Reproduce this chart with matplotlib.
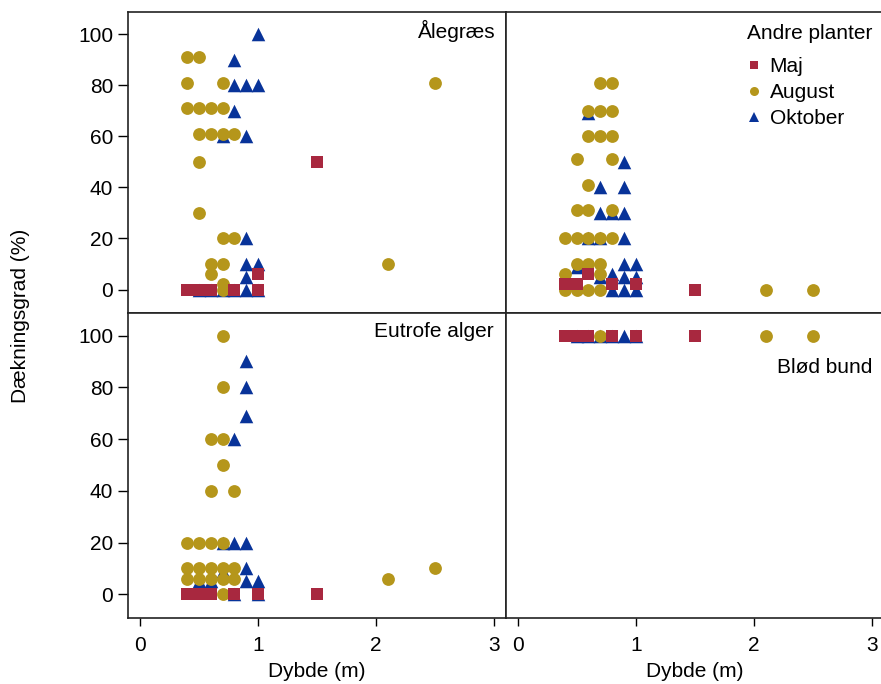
import matplotlib
matplotlib.use("Agg")
import matplotlib.pyplot as plt
from matplotlib.lines import Line2D

plt.rcParams['font.family'] = ['Liberation Sans', 'DejaVu Sans']
plt.rcParams['font.size'] = 15

# farver og markører pr. måned
maaneder = ['Maj', 'August', 'Oktober']
farver = {'Maj': '#A8283F', 'August': '#B5961B', 'Oktober': '#083399'}
markoerer = {'Maj': 's', 'August': 'o', 'Oktober': '^'}
stoerrelse = {'Maj': 68, 'August': 85, 'Oktober': 95}

# Ålegræs
aal_maj_x = [0.4, 0.5, 0.6, 0.8, 1.0, 1.0, 1.5]
aal_maj_y = [0, 0, 0, 0, 0, 6, 50]
aal_aug_x = [0.4, 0.5, 0.4, 0.7, 0.4, 0.5, 0.6, 0.7, 0.5, 0.6, 0.7, 0.8,
             0.5, 0.5, 0.7, 0.8, 0.6, 0.7, 0.6, 0.7, 0.7, 2.1, 2.5]
aal_aug_y = [91, 91, 81, 81, 71, 71, 71, 71, 61, 61, 61, 61,
             50, 30, 20, 20, 10, 10, 6, 2, 0, 10, 81]
aal_okt_x = [1.0, 0.8, 0.8, 0.9, 1.0, 0.8, 0.7, 0.9, 0.9, 0.9, 1.0, 0.9,
             0.5, 0.6, 0.7, 0.8, 0.9, 1.0]
aal_okt_y = [100, 90, 80, 80, 80, 70, 60, 60, 20, 10, 10, 5,
             0, 0, 0, 0, 0, 0]

# Andre planter
andre_maj_x = [0.4, 0.5, 0.6, 0.8, 1.0, 1.5]
andre_maj_y = [2, 2, 6, 2, 2, 0]
andre_aug_x = [0.7, 0.8, 0.6, 0.7, 0.8, 0.6, 0.7, 0.8, 0.5, 0.8, 0.6,
               0.5, 0.6, 0.8, 0.4, 0.5, 0.6, 0.7, 0.8, 0.5, 0.6, 0.7,
               0.4, 0.7, 0.4, 0.5, 0.6, 0.7, 2.1, 2.5]
andre_aug_y = [81, 81, 70, 70, 70, 60, 60, 60, 51, 51, 41,
               31, 31, 31, 20, 20, 20, 20, 20, 10, 10, 10,
               6, 6, 0, 0, 0, 0, 0, 0]
andre_okt_x = [0.6, 0.9, 0.7, 0.9, 0.7, 0.8, 0.9, 0.6, 0.7, 0.9,
               0.5, 0.9, 1.0, 0.7, 0.8, 0.9, 1.0, 0.8, 0.9, 1.0]
andre_okt_y = [69, 50, 40, 40, 30, 30, 30, 20, 20, 20,
               9, 10, 10, 5, 6, 5, 5, 0, 0, 0]

# Eutrofe alger
eut_maj_x = [0.4, 0.5, 0.6, 0.8, 1.0, 1.5]
eut_maj_y = [0, 0, 0, 0, 0, 0]
eut_aug_x = [0.7, 0.7, 0.6, 0.7, 0.7, 0.6, 0.8, 0.4, 0.5, 0.6, 0.7,
             0.4, 0.5, 0.6, 0.7, 0.8, 0.4, 0.5, 0.6, 0.7, 0.8, 0.7, 2.1, 2.5]
eut_aug_y = [100, 80, 60, 60, 50, 40, 40, 20, 20, 20, 20,
             10, 10, 10, 10, 10, 6, 6, 6, 6, 6, 0, 6, 10]
eut_okt_x = [0.9, 0.9, 0.9, 0.8, 0.7, 0.8, 0.9, 0.7, 0.9,
             0.5, 0.6, 0.9, 1.0, 0.8, 1.0]
eut_okt_y = [90, 80, 69, 60, 20, 20, 20, 9, 10,
             5, 5, 5, 5, 0, 0]

# Blød bund
bloed_maj_x = [0.4, 0.5, 0.6, 0.8, 1.0, 1.5]
bloed_maj_y = [100, 100, 100, 100, 100, 100]
bloed_aug_x = [0.7, 2.1, 2.5]
bloed_aug_y = [100, 100, 100]
bloed_okt_x = [0.5, 0.6, 0.7, 0.8, 0.9, 1.0]
bloed_okt_y = [100, 100, 100, 100, 100, 100]

paneler = [
    ('Ålegræs', (aal_maj_x, aal_maj_y), (aal_aug_x, aal_aug_y), (aal_okt_x, aal_okt_y)),
    ('Andre planter', (andre_maj_x, andre_maj_y), (andre_aug_x, andre_aug_y), (andre_okt_x, andre_okt_y)),
    ('Eutrofe alger', (eut_maj_x, eut_maj_y), (eut_aug_x, eut_aug_y), (eut_okt_x, eut_okt_y)),
    ('Blød bund', (bloed_maj_x, bloed_maj_y), (bloed_aug_x, bloed_aug_y), (bloed_okt_x, bloed_okt_y)),
]

fig = plt.figure(figsize=(8.81, 6.84), dpi=100)
W, H = 881, 684
venstre = [128.3, 505.7]
bredde = [377.4, 378.5]
top = [12.3, 313.3]
hoejde = [301.0, 305.0]

titel_pos = [(0.974, 0.938), (0.9685, 0.93), (0.969, 0.939), (0.9685, 0.821)]

akser = []
for i, (navn, maj, aug, okt) in enumerate(paneler):
    r, c = divmod(i, 2)
    ax = fig.add_axes([venstre[c] / W, 1 - (top[r] + hoejde[r]) / H,
                       bredde[c] / W, hoejde[r] / H])
    akser.append(ax)
    # tegneorden: oktober nederst, så august, så maj
    for m, (xs, ys), z in [('Oktober', okt, 2), ('August', aug, 3), ('Maj', maj, 4)]:
        ax.scatter(xs, ys, marker=markoerer[m], s=stoerrelse[m], color=farver[m],
                   linewidths=0, zorder=z, clip_on=False)
    ax.set_xlim(-0.1, 3.1)
    ax.set_ylim(-9.3, 108.6)
    for sp in ax.spines.values():
        sp.set_linewidth(1.2)
        sp.set_color('#222222')
    ax.set_xticks([0, 1, 2, 3])
    ax.set_yticks([0, 20, 40, 60, 80, 100])
    ax.tick_params(axis='x', direction='out', length=6, width=1, pad=7,
                   bottom=(r == 1), labelbottom=(r == 1))
    ax.tick_params(axis='y', direction='out', length=7, width=1, pad=4,
                   left=(c == 0), labelleft=(c == 0))
    tx, ty = titel_pos[i]
    ax.text(tx, ty, navn, transform=ax.transAxes, ha='right', va='center')
    if r == 1:
        ax.set_xlabel('Dybde (m)', labelpad=5)

# legende i panelet "Andre planter"
handles = [Line2D([], [], linestyle='none', marker=markoerer[m], color=farver[m],
                  markersize={'Maj': 6, 'August': 6.5, 'Oktober': 7}[m],
                  markeredgewidth=0) for m in maaneder]
akser[1].legend(handles, maaneder, loc='upper left', bbox_to_anchor=(0.612, 0.878),
                frameon=False, handlelength=0.8, handletextpad=0.35,
                labelspacing=0.33, borderpad=0.4, borderaxespad=0)

fig.text(21 / W, 1 - 316 / H, 'Dækningsgrad (%)', rotation=90, ha='center', va='center')

plt.savefig('out.png', dpi=100)
